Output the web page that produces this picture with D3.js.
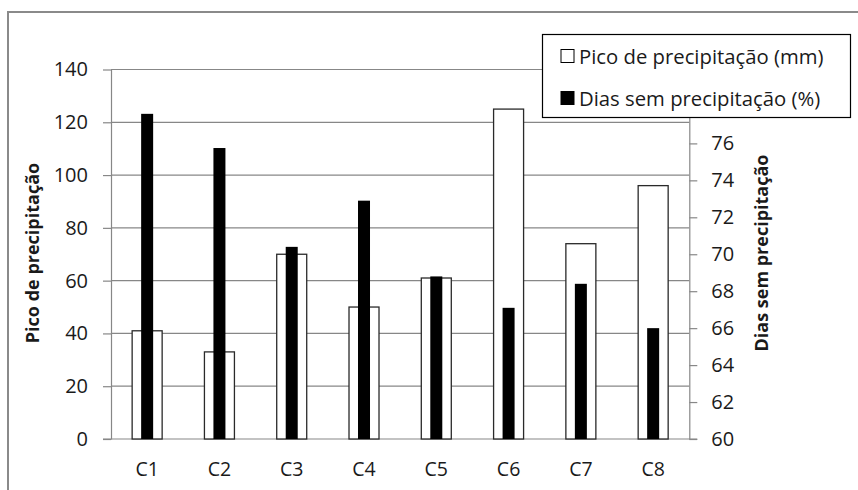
<!DOCTYPE html>
<html>
<head>
<meta charset="utf-8">
<script src="https://cdn.jsdelivr.net/npm/d3@7"></script>
<style>
  html, body { margin: 0; padding: 0; background: #fff; }
  svg { display: block; }
  text { font-family: "Open Sans", "DejaVu Sans", sans-serif; fill: #1a1a1a; }
</style>
</head>
<body>
<svg id="chart" width="858" height="490"></svg>
<script>
// Categories and series
const categories = ["C1", "C2", "C3", "C4", "C5", "C6", "C7", "C8"];
const picoPrecipitacao = [41, 33, 70, 50, 61, 125, 74, 96];          // mm, left axis
const diasSemPrecipitacao = [77.6, 75.75, 70.4, 72.9, 68.8, 67.1, 68.4, 66.0]; // %, right axis
const leftTicks = [0, 20, 40, 60, 80, 100, 120, 140];
const rightTicks = [60, 62, 64, 66, 68, 70, 72, 74, 76];
const seriesNames = ["Pico de precipitação (mm)", "Dias sem precipitação (%)"];
const axisTitles = ["Pico de precipitação", "Dias sem precipitação"];

const svg = d3.select("#chart");
const plot = { left: 111, right: 689.3, top: 69.5, bottom: 439 };
const gridColor = "#878787";
const tickFont = "20px";

// Outer chart frame (extends past the bottom/right edges)
svg.append("rect")
  .attr("x", 8).attr("y", 12)
  .attr("width", 900).attr("height", 600)
  .attr("fill", "#fff")
  .attr("stroke", "#8a8a8a").attr("stroke-width", 2);

const x = d3.scaleBand().domain(categories).range([plot.left, plot.right]).padding(0);
const yL = d3.scaleLinear().domain([0, 140]).range([plot.bottom, plot.top]);
const yR = d3.scaleLinear().domain([60, 80]).range([plot.bottom, plot.top]);

// Horizontal gridlines
svg.append("g").selectAll("line")
  .data(leftTicks.slice(1))
  .join("line")
  .attr("x1", plot.left).attr("x2", plot.right)
  .attr("y1", d => yL(d)).attr("y2", d => yL(d))
  .attr("stroke", gridColor).attr("stroke-width", 1.2);

// Left axis
const axL = svg.append("g")
  .attr("transform", `translate(${plot.left},0)`)
  .call(d3.axisLeft(yL).tickValues(leftTicks).tickSize(8).tickPadding(15).tickSizeOuter(0));
axL.select(".domain").attr("stroke", gridColor).attr("stroke-width", 1.2);
axL.selectAll(".tick line").attr("stroke", gridColor).attr("stroke-width", 1.2);
axL.selectAll(".tick text")
  .style("font-size", tickFont).style("font-family", "'Open Sans', sans-serif")
  .attr("fill", "#1a1a1a");

// Right axis (upper part sits behind the legend box)
const axR = svg.append("g")
  .attr("transform", `translate(${plot.right},0)`)
  .call(d3.axisRight(yR).tickValues(rightTicks).tickSize(8).tickPadding(14).tickSizeOuter(0));
axR.select(".domain").attr("stroke", gridColor).attr("stroke-width", 1.2);
axR.selectAll(".tick line").attr("stroke", gridColor).attr("stroke-width", 1.2);
axR.selectAll(".tick text")
  .style("font-size", tickFont).style("font-family", "'Open Sans', sans-serif")
  .attr("fill", "#1a1a1a");

// Category baseline
svg.append("line")
  .attr("x1", plot.left - 8).attr("x2", plot.right + 8)
  .attr("y1", plot.bottom).attr("y2", plot.bottom)
  .attr("stroke", gridColor).attr("stroke-width", 1.2);

// Category labels
svg.append("g").selectAll("text")
  .data(categories)
  .join("text")
  .attr("x", d => x(d) + x.bandwidth() / 2)
  .attr("y", 476)
  .attr("text-anchor", "middle")
  .style("font-size", "19.5px")
  .text(d => d);

const wideW = x.bandwidth() * 0.415;
const narrowW = x.bandwidth() * 0.166;

// White bars: peak precipitation (left axis)
svg.append("g").selectAll("rect")
  .data(categories)
  .join("rect")
  .attr("x", d => x(d) + x.bandwidth() / 2 - wideW / 2)
  .attr("width", wideW)
  .attr("y", (d, i) => yL(picoPrecipitacao[i]))
  .attr("height", (d, i) => plot.bottom - yL(picoPrecipitacao[i]))
  .attr("fill", "#fff")
  .attr("stroke", "#2a2a2a").attr("stroke-width", 1.3);

// Black bars: days without precipitation (right axis)
svg.append("g").selectAll("rect")
  .data(categories)
  .join("rect")
  .attr("x", d => x(d) + x.bandwidth() / 2 - narrowW / 2)
  .attr("width", narrowW)
  .attr("y", (d, i) => yR(diasSemPrecipitacao[i]))
  .attr("height", (d, i) => plot.bottom - yR(diasSemPrecipitacao[i]))
  .attr("fill", "#000");

// Axis titles
svg.append("text")
  .attr("transform", `translate(38.5,253) rotate(-90)`)
  .attr("text-anchor", "middle")
  .style("font-size", "18px").style("font-weight", "bold")
  .attr("fill", "#000")
  .text(axisTitles[0]);

svg.append("text")
  .attr("transform", `translate(767.5,253) rotate(-90)`)
  .attr("text-anchor", "middle")
  .style("font-size", "18px").style("font-weight", "bold")
  .attr("fill", "#000")
  .text(axisTitles[1]);

// Legend
const lg = svg.append("g");
lg.append("rect")
  .attr("x", 542.5).attr("y", 34.5)
  .attr("width", 308).attr("height", 83)
  .attr("fill", "#fff").attr("stroke", "#000").attr("stroke-width", 1.2);

const legendRows = [
  { name: seriesNames[0], fill: "#fff", y: 56 },
  { name: seriesNames[1], fill: "#000", y: 98 }
];
legendRows.forEach(r => {
  lg.append("rect")
    .attr("x", 561).attr("y", r.y - 6.5)
    .attr("width", 13).attr("height", 13)
    .attr("fill", r.fill).attr("stroke", "#000").attr("stroke-width", 1);
  lg.append("text")
    .attr("x", 579).attr("y", r.y)
    .attr("dominant-baseline", "central")
    .style("font-size", "20.3px")
    .text(r.name);
});
</script>
</body>
</html>
